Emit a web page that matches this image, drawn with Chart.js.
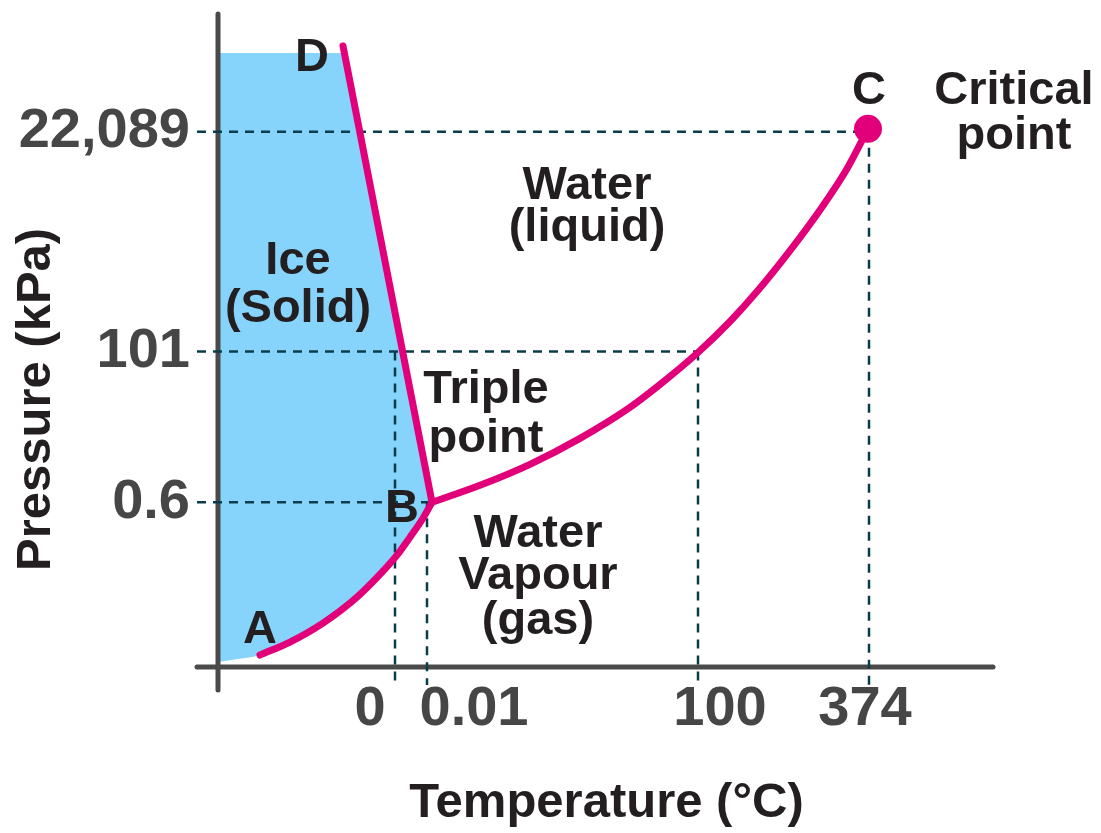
<!DOCTYPE html>
<html>
<head>
<meta charset="utf-8">
<script src="https://cdn.jsdelivr.net/npm/chart.js@4.4.1/dist/chart.umd.min.js"></script>
<style>
  html, body { margin: 0; padding: 0; background: #ffffff; }
  #wrap { width: 1101px; height: 833px; }
</style>
</head>
<body>
<div id="wrap"><canvas id="c" width="1101" height="833"></canvas></div>
<script>
// ---- Schematic phase diagram of water (diagram units, not to scale) ----
const tempTickLabels = ['0', '0.01', '100', '374'];      // °C
const tempGuideX     = [177, 209, 480, 651];              // schematic temperature positions
const tempLabelX     = [152, 256, 502, 647];              // where the tick texts sit
const pressTickLabels = ['0.6', '101', '22,089'];         // kPa
const pressGuideY     = [165, 316, 536];                  // schematic pressure positions

const meltingLine       = [[125, 622], [214, 165]];       // D -> B
const sublimationCurve  = [[42, 12], [72, 25], [105, 44], [139, 70], [165, 96], [179, 112], [192, 130], [205, 149], [214, 165]]; // A -> B
const vaporizationCurve = [[214, 165], [262, 182], [312, 203], [362, 229], [409, 258], [442, 283], [480, 315], [512, 346], [539, 376], [572, 417], [605, 462], [629, 499], [650, 539]]; // B -> C
const criticalPoint     = [[650, 539]];                   // C
const triplePoint       = [214, 165];                     // B
const iceCeiling        = [[0, 615], [126, 615]];
const iceFloorStart     = [[0, 5], [20, 8]];

const regionLabels = [
  { lines: ['D'], at: [94, 597] },
  { lines: ['C'], at: [651, 564] },
  { lines: ['Critical', 'point'], at: [796, 564] },
  { lines: ['A'], at: [42, 24] },
  { lines: ['B'], at: [184, 145] },
  { lines: ['Ice', '(Solid)'], at: [80, 394] },
  { lines: ['Triple', 'point'], at: [268, 264] },
  { lines: ['Water', '(liquid)'], at: [369, 469] },
  { lines: ['Water', 'Vapour', '(gas)'], at: [320, 120] }
];
const lineGaps = { 'Critical': 45, 'Ice': 48, 'Triple': 49, 'Water': 42, 'Vapour': 45 };

const pressureTitle = 'Pressure (kPa)';
const temperatureTitle = 'Temperature (°C)';

// ---- styles ----
const PINK = '#e2007a';
const BLUE = '#86d4fc';
const AXIS = '#4a4a4a';
const GUIDE = '#0b3c4a';
const TEXT = '#231f20';
const TICK = '#464646';
const FONT = '"Liberation Sans", Arial, Helvetica, sans-serif';

const pts = arr => arr.map(p => ({ x: p[0], y: p[1] }));

const guideSegments = [
  [[-21, pressGuideY[0]], [triplePoint[0], pressGuideY[0]]],
  [[-21, pressGuideY[1]], [tempGuideX[2], pressGuideY[1]]],
  [[-21, pressGuideY[2]], [criticalPoint[0][0], pressGuideY[2]]],
  [[tempGuideX[0], pressGuideY[1]], [tempGuideX[0], -18]],
  [[tempGuideX[1], pressGuideY[0]], [tempGuideX[1], -18]],
  [[tempGuideX[2], pressGuideY[1]], [tempGuideX[2], -18]],
  [[tempGuideX[3], pressGuideY[2]], [tempGuideX[3], -18]]
];

const datasets = [];
datasets.push({
  label: 'ice-top', data: pts([...iceCeiling, triplePoint]),
  borderWidth: 0, pointRadius: 0, backgroundColor: BLUE, fill: '+1', order: 5, clip: false
});
datasets.push({
  label: 'ice-bottom', data: pts([...iceFloorStart, ...sublimationCurve]),
  borderWidth: 0, pointRadius: 0, fill: false, cubicInterpolationMode: 'monotone', order: 5, clip: false
});
datasets.push({ label: 'y-axis', data: pts([[0, -23], [0, 654]]), borderColor: AXIS, borderWidth: 5, borderCapStyle: 'round', pointRadius: 0, fill: false, order: 3, clip: false });
datasets.push({ label: 'x-axis', data: pts([[-21, 0], [775, 0]]), borderColor: AXIS, borderWidth: 5, borderCapStyle: 'round', pointRadius: 0, fill: false, order: 3, clip: false });
guideSegments.forEach((seg, i) => datasets.push({
  label: 'guide' + i, data: pts(seg), borderColor: GUIDE, borderWidth: 2.5,
  borderDash: [9, 7], pointRadius: 0, fill: false, order: 2, clip: false
}));
datasets.push({ label: 'melting', data: pts(meltingLine), borderColor: PINK, borderWidth: 7, borderCapStyle: 'round', borderJoinStyle: 'round', pointRadius: 0, fill: false, order: 1, clip: false });
datasets.push({ label: 'sublimation', data: pts(sublimationCurve), borderColor: PINK, borderWidth: 7, borderCapStyle: 'round', borderJoinStyle: 'round', cubicInterpolationMode: 'monotone', pointRadius: 0, fill: false, order: 1, clip: false });
datasets.push({ label: 'vaporization', data: pts(vaporizationCurve), borderColor: PINK, borderWidth: 7, borderCapStyle: 'round', borderJoinStyle: 'round', cubicInterpolationMode: 'monotone', pointRadius: 0, fill: false, order: 1, clip: false });
datasets.push({ label: 'critical', data: pts(criticalPoint), showLine: false, pointRadius: 14, pointBackgroundColor: PINK, pointBorderWidth: 0, borderColor: PINK, fill: false, order: 0, clip: false });

const annotationPlugin = {
  id: 'annotations',
  afterDatasetsDraw(chart) {
    const { ctx, scales: { x, y } } = chart;
    ctx.save();
    ctx.fillStyle = TEXT;
    ctx.textAlign = 'center';
    ctx.textBaseline = 'alphabetic';
    ctx.font = 'bold 47px ' + FONT;
    regionLabels.forEach(lbl => {
      const px = x.getPixelForValue(lbl.at[0]);
      let py = y.getPixelForValue(lbl.at[1]);
      lbl.lines.forEach(t => {
        ctx.fillText(t, px, py);
        py += lineGaps[t] || 45;
      });
    });
    ctx.font = 'bold 49px ' + FONT;
    ctx.fillStyle = TEXT;
    ctx.translate(x.getPixelForValue(-182), y.getPixelForValue(268));
    ctx.rotate(-Math.PI / 2);
    ctx.textBaseline = 'middle';
    ctx.fillText(pressureTitle, 0, 0);
    ctx.restore();
  }
};

new Chart(document.getElementById('c'), {
  type: 'line',
  data: { datasets },
  options: {
    responsive: false,
    animation: false,
    devicePixelRatio: 1,
    layout: { padding: { top: 13, right: 106, left: 0, bottom: 0 } },
    plugins: {
      legend: { display: false },
      tooltip: { enabled: false },
      filler: { drawTime: 'beforeDatasetsDraw' }
    },
    scales: {
      x: {
        type: 'linear', min: 0, max: 777,
        grid: { display: false, drawTicks: false }, border: { display: false },
        afterBuildTicks: s => { s.ticks = tempLabelX.map(v => ({ value: v })); },
        afterFit: s => { s.height = 166; s.paddingLeft = 0; s.paddingRight = 0; },
        ticks: {
          autoSkip: false, maxRotation: 0, minRotation: 0, padding: 9,
          color: TICK, font: { family: FONT, size: 56, weight: 'bold' },
          callback: (v, i) => tempTickLabels[i]
        },
        title: {
          display: true, text: temperatureTitle, color: TEXT,
          font: { family: FONT, size: 49, weight: 'bold' }, padding: { top: 0, bottom: 0 }
        }
      },
      y: {
        type: 'linear', min: 0, max: 654,
        grid: { display: false, drawTicks: false }, border: { display: false },
        afterBuildTicks: s => { s.ticks = pressGuideY.map(v => ({ value: v })); },
        afterFit: s => { s.width = 218; s.paddingTop = 0; s.paddingBottom = 0; },
        ticks: {
          autoSkip: false, padding: 28,
          color: TICK, font: { family: FONT, size: 56, weight: 'bold' },
          callback: (v, i) => pressTickLabels[i]
        }
      }
    }
  },
  plugins: [annotationPlugin]
});
</script>
</body>
</html>
